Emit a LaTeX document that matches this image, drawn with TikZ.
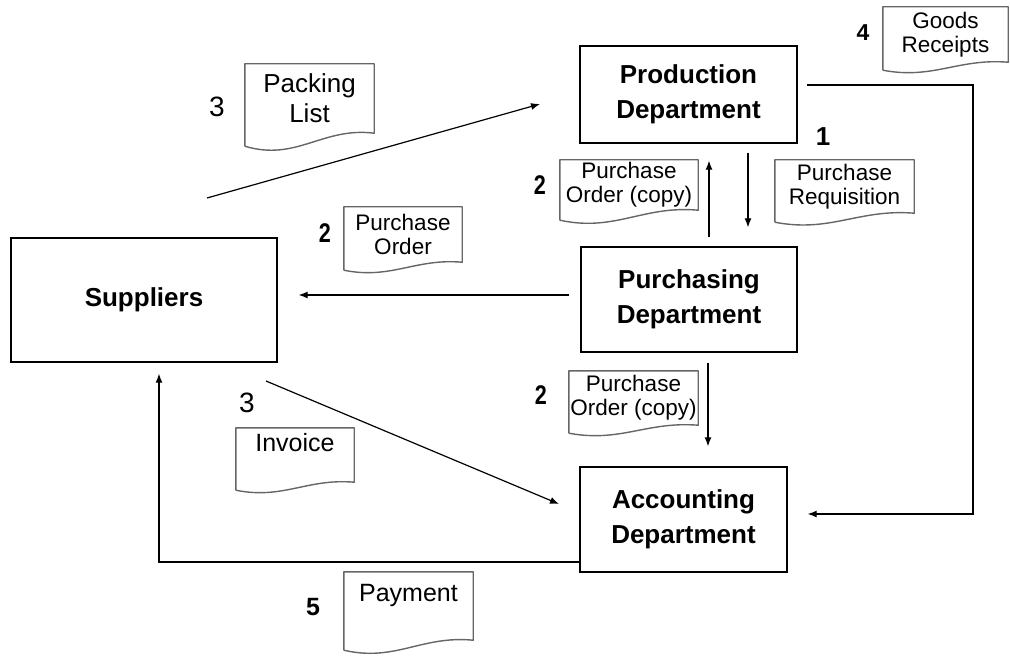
\documentclass[tikz,border=0pt]{standalone}
\usepackage{fontspec}
\setmainfont{Liberation Sans}
\usetikzlibrary{calc,arrows.meta}
\newcommand\docwave[2]{%
  \draw[docline] ($(#1.south west)+(0,#2)$) -- (#1.north west) -- (#1.north east) -- (#1.south east)
    .. controls ($(#1.south west)!0.6!(#1.south east)+(0,-0.5*#2)$) and ($(#1.south west)!0.4!(#1.south east)+(0,2.2*#2)$)
    .. ($(#1.south west)+(0,#2)$);}
\tikzset{
  box/.style={draw=black, line width=1.4pt, inner sep=0pt, align=center,
    font=\fontsize{26}{35}\selectfont\bfseries},
  doc/.style={inner sep=0pt, align=center, font=\fontsize{22.5}{24}\selectfont},
  docline/.style={draw=black!60, line width=1.4pt, line join=round},
  num/.style={inner sep=0pt, font=\fontsize{27}{27}\selectfont\bfseries},
  numr/.style={inner sep=0pt, font=\fontsize{28}{28}\selectfont},
  conn/.style={line width=1.2pt, draw=black},
  arr/.style={conn, -{Latex[length=9pt,width=7pt]}}
}
\begin{document}
\begin{tikzpicture}[x=1pt,y=-1pt]
\useasboundingbox (0,0) rectangle (1010,658);
% boxes
\node[box, minimum width=217pt, minimum height=97pt] (prod) at (688.5,94.5) {Production\\Department};
\node[box, minimum width=216pt, minimum height=105pt] (purch) at (689,299.5) {Purchasing\\Department};
\node[box, minimum width=207pt, minimum height=105pt] (acct) at (683.5,519.5) {Accounting\\Department};
\node[box, minimum width=266pt, minimum height=124pt] (sup) at (144,300) {Suppliers};
% documents
\node[doc, minimum width=129pt, minimum height=69pt, font=\fontsize{26}{30}\selectfont] (pack) at (309.5,98.5) {Packing\\List};
\docwave{pack}{13}
\node[doc, minimum width=118pt, minimum height=55pt] (po) at (403,234.5) {Purchase\\Order};
\docwave{po}{8}
\node[doc, minimum width=138pt, minimum height=50pt] (poca) at (629,185) {Purchase\\Order (copy)};
\docwave{poca}{10}
\node[doc, minimum width=139pt, minimum height=53pt] (preq) at (844.5,186.5) {Purchase\\Requisition};
\docwave{preq}{9}
\node[doc, minimum width=125pt, minimum height=55pt] (goods) at (945.5,34.5) {Goods\\Receipts};
\docwave{goods}{8}
\node[doc, minimum width=129pt, minimum height=54pt] (pocb) at (633.5,398) {Purchase\\Order (copy)};
\docwave{pocb}{8}
\node[doc, minimum width=118pt, minimum height=54pt, font=\fontsize{25}{26}\selectfont] (inv) at (295,455) {Invoice\\\mbox{}};
\docwave{inv}{8}
\node[doc, minimum width=129pt, minimum height=68pt, font=\fontsize{25}{26}\selectfont] (pay) at (408.5,606) {Payment\\\mbox{}};
\docwave{pay}{10}
% numbers
\node[numr] (n3a) at (217,107) {3};
\node[num] (n2a) at (325,233) {\scalebox{0.8}[1]{2}};
\node[num] (n2b) at (540,185) {\scalebox{0.8}[1]{2}};
\node[num, font=\fontsize{26}{26}\selectfont\bfseries] (n1) at (823,137) {1};
\node[num, font=\fontsize{23}{23}\selectfont\bfseries] (n4) at (863,33) {4};
\node[num] (n2c) at (541,395) {\scalebox{0.8}[1]{2}};
\node[numr] (n3b) at (247,403) {3};
\node[num, font=\fontsize{25}{25}\selectfont\bfseries] (n5) at (313,607) {5};
% helper coordinates
\coordinate (xa) at (748,0);
\coordinate (xb) at (709,0);
\coordinate (xc) at (708,0);
\coordinate (xr) at (973,0);
\coordinate (xe) at (159,0);
\coordinate (ya) at (0,295);
\coordinate (yb) at (0,85);
\coordinate (yc) at (0,514);
\coordinate (yd) at (0,562);
\coordinate (pk1) at (207,198);
\coordinate (pk2) at (540,104);
\coordinate (iv1) at (266,381);
\coordinate (iv2) at (559,504);
% connectors
\draw[arr] (pk1) -- (pk2);
\draw[arr, shorten <=9pt, shorten >=19pt] (prod.south -| xa) -- (purch.north -| xa);
\draw[arr, shorten <=9pt, shorten >=17pt] (purch.north -| xb) -- (prod.south -| xb);
\draw[arr, shorten <=11pt, shorten >=21pt] (purch.west |- ya) -- (sup.east |- ya);
\draw[arr, shorten <=10pt, shorten >=20pt] (purch.south -| xc) -- (acct.north -| xc);
\draw[arr] (iv1) -- (iv2);
\draw[arr, shorten <=9pt, shorten >=20pt] (prod.east |- yb) -| (xr |- yc) -- (acct.east |- yc);
\draw[arr, shorten >=11pt] (acct.west |- yd) -| (sup.south -| xe);
\end{tikzpicture}
\end{document}
